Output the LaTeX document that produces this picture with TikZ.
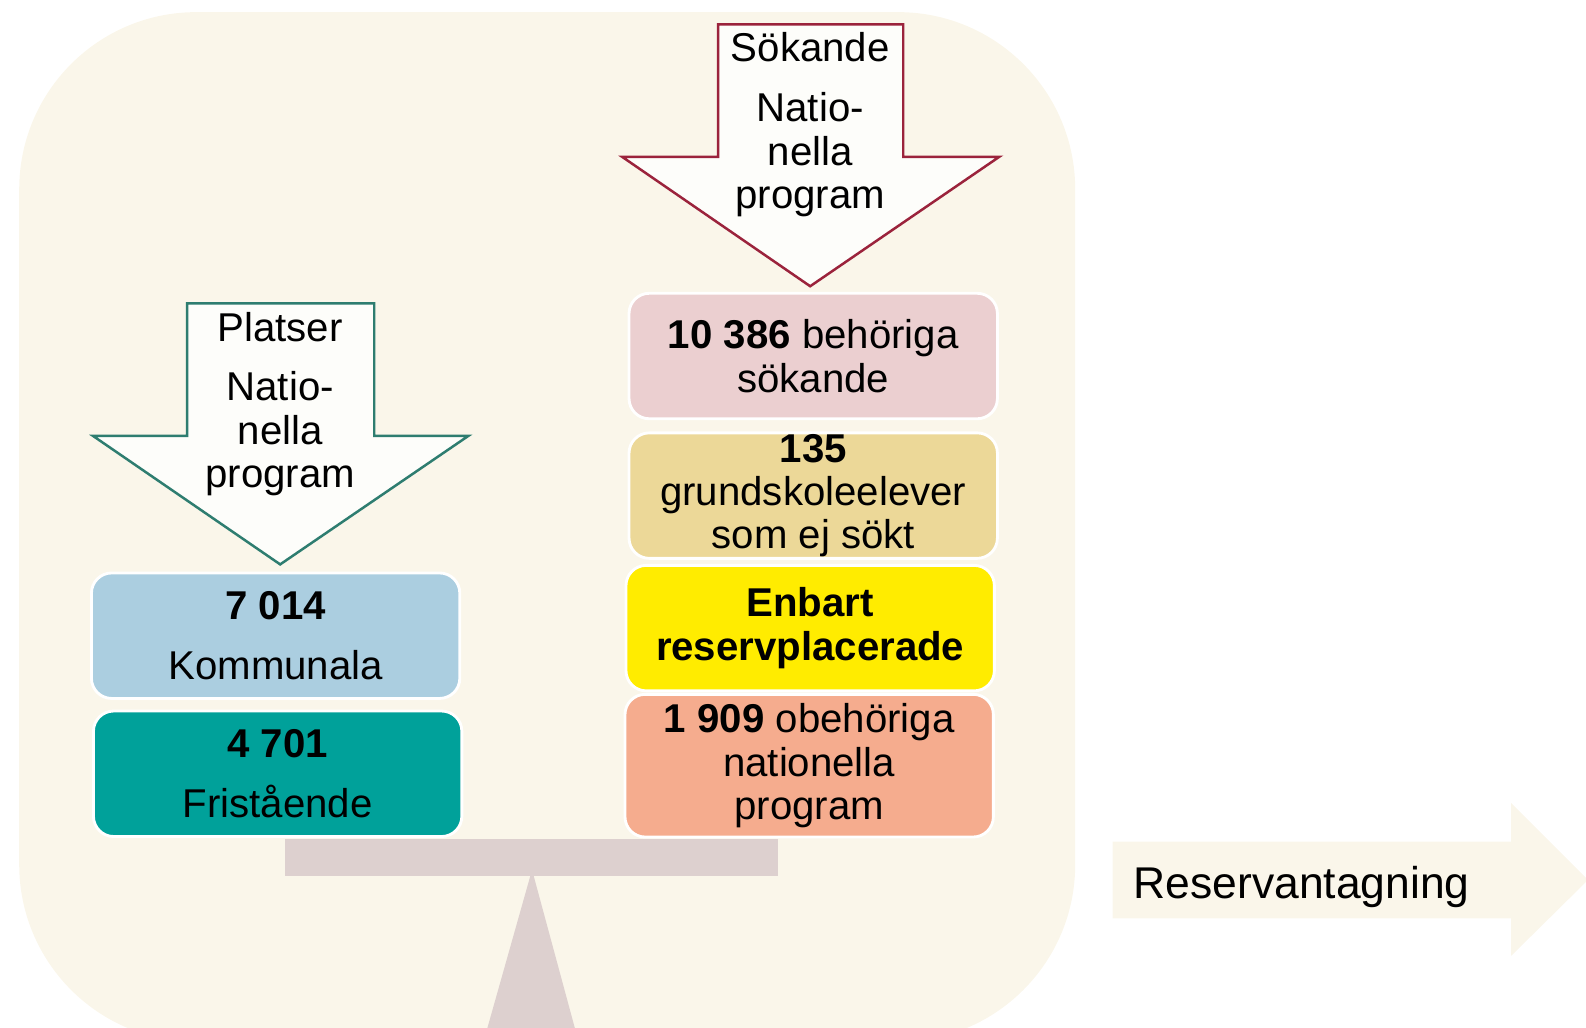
\documentclass[tikz,border=0pt]{standalone}
\usepackage{fontspec}
\setmainfont{Liberation Sans}
\usetikzlibrary{positioning}

\definecolor{bgcream}{RGB}{250,246,234}
\definecolor{arrowteal}{RGB}{46,125,112}
\definecolor{arrowred}{RGB}{155,35,60}
\definecolor{arrowfill}{RGB}{253,253,250}
\definecolor{kommblue}{RGB}{171,206,224}
\definecolor{fristeal}{RGB}{0,161,154}
\definecolor{behpink}{RGB}{235,207,208}
\definecolor{grundtan}{RGB}{236,216,152}
\definecolor{enbyellow}{RGB}{255,236,0}
\definecolor{obehsalmon}{RGB}{245,172,142}
\definecolor{beamgray}{RGB}{221,208,207}

\newcommand{\boxfont}{\fontsize{11.3}{12.2}\selectfont}

\tikzset{
    box/.style={draw=white, line width=0.8pt, rounded corners=0.2cm, minimum width=3.64cm, minimum height=1.24cm, align=center, inner sep=0pt, font=\boxfont}, % staplarna
    label text/.style={align=center, inner sep=0pt, font=\boxfont},
    down arrow/.style={fill=arrowfill, line width=0.7pt, line join=miter}
}

\begin{document}
\begin{tikzpicture}[x=0.01cm, y=-0.01cm]

    \useasboundingbox (0,0) rectangle (1568,1016);
    \clip (0,0) rectangle (1568,1016);

    % bakgrund
    \fill[bgcream, rounded corners=1.75cm] (19,12) rectangle (1063,1030);

    % vågen
    \fill[beamgray] (282,829) rectangle (769,866);
    \fill[beamgray] (526,860) -- (572,1030) -- (478,1030) -- cycle;

    % pil platser
    \draw[down arrow, draw=arrowteal] (185,300) -- (370,300) -- (370,431) -- (463,431)
        -- (277,558) -- (92,431) -- (185,431) -- cycle;
    \node[label text] (platser) at (277,323) {Platser};
    \node[label text] (platsernat) at (277,429) {Natio-\\nella\\program};

    % pil sökande
    \draw[down arrow, draw=arrowred] (710,24) -- (893,24) -- (893,155) -- (988,155)
        -- (801,283) -- (615,155) -- (710,155) -- cycle;
    \node[label text] (sokande) at (801,47) {Sökande};
    \node[label text] (sokandenat) at (801,153) {Natio-\\nella\\program};

    % platser
    \node[box, fill=kommblue] (komm) at (272.5,628.5) {\textbf{7 014}\\[4.8pt]Kommunala};
    \node[box, fill=fristeal] (fri) at (274.5,765) {\textbf{4 701}\\[4.8pt]Fristående};

    % sökande
    \node[box, fill=behpink] (beh) at (804,352) {\textbf{10 386} behöriga\\sökande};
    \node[box, fill=grundtan] (grund) at (804,490) {\textbf{135}\\grundskoleelever\\som ej sökt};
    \node[box, fill=enbyellow] (enb) at (801,621) {\textbf{Enbart}\\\textbf{reservplacerade}};
    \node[box, fill=obehsalmon, minimum height=1.41cm] (obeh) at (800,757) {\textbf{1 909} obehöriga\\nationella\\program};

    % reservantagning
    \fill[bgcream] (1100,832) -- (1494,832) -- (1494,794) -- (1570,870) -- (1494,945)
        -- (1494,908) -- (1100,908) -- cycle;
    \node[anchor=base west, inner sep=0pt, font=\fontsize{12.5}{14}\selectfont] (reserv) at (1120,888) {Reservantagning};

\end{tikzpicture}
\end{document}
